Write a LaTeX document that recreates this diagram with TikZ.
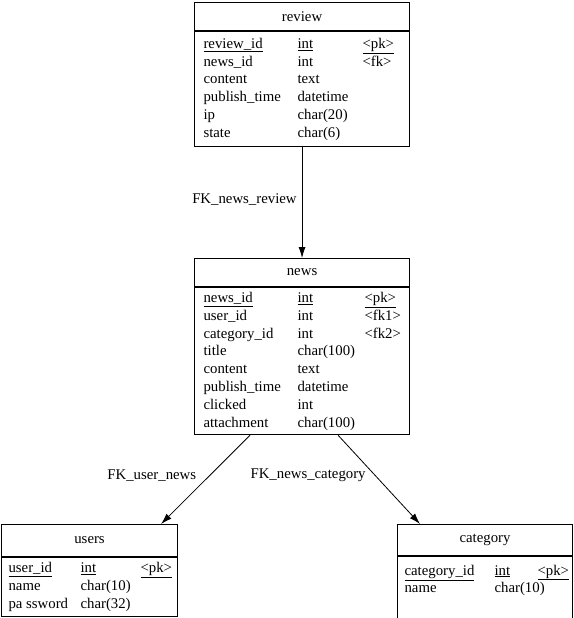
\documentclass[tikz,border=0pt]{standalone}
\usepackage{fontspec}
\usepackage{array}
\setmainfont{Liberation Serif}
\usetikzlibrary{calc,arrows.meta}
\usetikzlibrary{positioning}
\setlength{\tabcolsep}{0pt}

\begin{document}
\begin{tikzpicture}[x=1pt, y=-1pt,
  every node/.style={font=\fontsize{14.8}{17.8}\selectfont},
  tblhead/.style={draw=black, line width=1.1pt, anchor=north west, inner sep=0pt, minimum height=28pt},
  tblbody/.style={draw=black, line width=1.1pt, anchor=north west, inner ysep=0pt, inner xsep=7pt},
  fklink/.style={draw=black, line width=0.8pt, -{Latex[length=11pt, width=7pt]}},
  fklabel/.style={fill=white, inner sep=1pt}
]
\useasboundingbox (0,0) rectangle (573,618);

% review table
\node[tblhead, minimum width=215pt] (reviewhead) at (194,2) {review};
\node[tblbody, inner xsep=9pt, minimum width=215pt, minimum height=115pt] (reviewbody) at (reviewhead.south west) {%
  \begin{tabular}{p{94pt}p{65pt}p{38pt}}
  \underline{review\_id} & \underline{int} & \underline{<pk>}\\
  news\_id & int & <fk>\\
  content & text & \\
  publish\_time & datetime & \\
  ip & char(20) & \\
  state & char(6) &
  \end{tabular}};

% news table
\node[tblhead, minimum width=215pt] (newshead) at (194,258) {news};
\node[tblbody, inner xsep=9pt, minimum width=215pt, minimum height=147pt] (newsbody) at (newshead.south west) {%
  \begin{tabular}{p{94pt}p{67pt}p{36pt}}
  \underline{news\_id} & \underline{int} & \underline{<pk>}\\
  user\_id & int & <fk1>\\
  category\_id & int & <fk2>\\
  title & char(100) & \\
  content & text & \\
  publish\_time & datetime & \\
  clicked & int & \\
  attachment & char(100) &
  \end{tabular}};

% users table
\node[tblhead, minimum width=176pt, minimum height=32pt] (usershead) at (1,524) {users};
\node[tblbody, minimum width=176pt, minimum height=59pt] (usersbody) at (usershead.south west) {%
  \begin{tabular}{p{72pt}p{60pt}p{30pt}}
  \underline{user\_id} & \underline{int} & \underline{<pk>}\\
  name & char(10) & \\
  pa ssword & char(32) &
  \end{tabular}};

% category table
\node[tblhead, minimum width=175pt, minimum height=31pt] (categoryhead) at (397,524) {category};
\node[tblbody, minimum width=175pt, minimum height=62pt] (categorybody) at (categoryhead.south west) {%
  \begin{minipage}[c][50pt][t]{161pt}
  \begin{tabular}{p{90pt}p{43pt}p{28pt}}
  \underline{category\_id} & \underline{int} & \underline{<pk>}\\
  name & char(10) &
  \end{tabular}
  \end{minipage}};

% ---- References ----
\draw[fklink] (reviewbody.south) -- node[fklabel, left=4pt, yshift=3pt]{FK\_news\_review} (newshead.north);
\draw[fklink] ([xshift=-52pt]newsbody.south) -- node[fklabel, left=8pt, yshift=4pt]{FK\_user\_news} ([xshift=-17pt]usershead.north east);
\draw[fklink] ([xshift=36pt]newsbody.south) -- node[fklabel, left=12pt, yshift=4pt]{FK\_news\_category} ([xshift=23pt]categoryhead.north west);

\end{tikzpicture}
\end{document}
